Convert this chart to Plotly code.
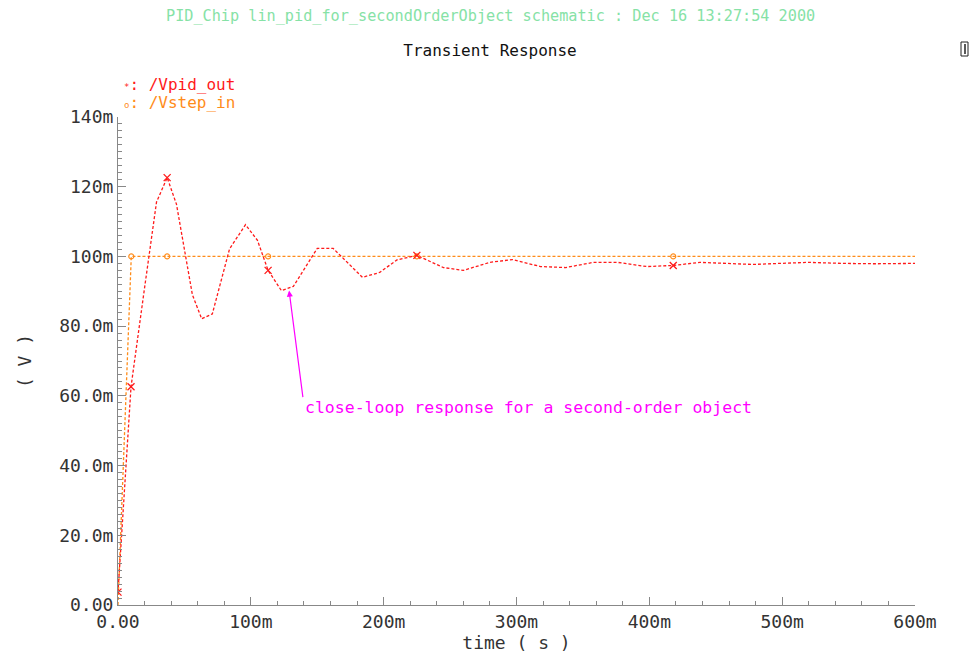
import plotly.graph_objects as go

# ---- data (time in s, voltage in V) ----
pid_t = [0.0, 0.0098, 0.020, 0.029, 0.037, 0.044, 0.056, 0.063, 0.071, 0.084,
         0.096, 0.105, 0.113, 0.123, 0.132, 0.150, 0.162, 0.184, 0.197, 0.210,
         0.225, 0.245, 0.260, 0.280, 0.297, 0.318, 0.337, 0.358, 0.376, 0.398,
         0.418, 0.438, 0.458, 0.478, 0.498, 0.520, 0.545, 0.570, 0.600]
pid_v_mv = [3.7, 62.6, 91.0, 115.6, 122.6, 115.0, 89.0, 82.1, 83.5, 102.2,
            109.1, 104.6, 96.0, 90.2, 91.4, 102.3, 102.3, 94.0, 95.4, 99.0,
            100.3, 96.8, 96.0, 98.3, 99.1, 97.1, 96.8, 98.3, 98.3, 97.1,
            97.4, 98.3, 98.0, 97.7, 98.0, 98.3, 98.0, 97.9, 98.0]

step_t = [0.0, 0.010, 0.600]
step_v_mv = [0.0, 100.0, 100.0]

pid_mark_t = [0.0, 0.0098, 0.037, 0.113, 0.225, 0.418]
pid_mark_mv = [3.7, 62.6, 122.6, 96.0, 100.3, 97.4]
step_mark_t = [0.010, 0.037, 0.113, 0.225, 0.418]
step_mark_mv = [100.0, 100.0, 100.0, 100.0, 100.0]

x_tickvals = [0.0, 0.1, 0.2, 0.3, 0.4, 0.5, 0.6]
x_ticktext = ["0.00", "100m", "200m", "300m", "400m", "500m", "600m"]
y_tickvals = [0.0, 0.02, 0.04, 0.06, 0.08, 0.10, 0.12, 0.14]
y_ticktext = ["0.00", "20.0m", "40.0m", "60.0m", "80.0m", "100m", "120m", "140m"]

RED = "#ff1a1a"
ORANGE = "#ff8c1a"
MAGENTA = "#ff00ff"
GREEN = "#86e2a6"
FONT = "DejaVu Sans Mono"
TXT = "#333333"

def mv(vals):
    return [v / 1000.0 for v in vals]

fig = go.Figure()
fig.add_trace(go.Scatter(x=step_t, y=mv(step_v_mv), mode="lines", name="/Vstep_in",
                         line=dict(color=ORANGE, width=1.3, dash="3px,2px")))
fig.add_trace(go.Scatter(x=pid_t, y=mv(pid_v_mv), mode="lines", name="/Vpid_out",
                         line=dict(color=RED, width=1.3, dash="3px,2px")))
fig.add_trace(go.Scatter(x=step_mark_t, y=mv(step_mark_mv), mode="markers",
                         marker=dict(symbol="circle-open", size=5, color=ORANGE,
                                     line=dict(width=1.2)), showlegend=False))
fig.add_trace(go.Scatter(x=pid_mark_t, y=mv(pid_mark_mv), mode="markers",
                         marker=dict(symbol="x-thin-open", size=7, color=RED,
                                     line=dict(width=1.3, color=RED)), showlegend=False))

axis_common = dict(showline=True, linecolor="#888888", linewidth=1, showgrid=False,
                   zeroline=False, ticks="inside", ticklen=8, tickcolor="#888888",
                   tickfont=dict(family=FONT, size=18, color=TXT))

fig.update_xaxes(range=[0, 0.6], tickvals=x_tickvals, ticktext=x_ticktext,
                 minor=dict(ticks="inside", dtick=0.02, ticklen=4, tickcolor="#888888"),
                 title=dict(text="time ( s )", font=dict(family=FONT, size=18, color=TXT),
                            standoff=0),
                 **axis_common)
fig.update_yaxes(range=[0, 0.14], tickvals=y_tickvals, ticktext=y_ticktext,
                 minor=dict(ticks="inside", dtick=0.002, ticklen=4, tickcolor="#888888"),
                 title=dict(text="( V )", font=dict(family=FONT, size=18, color=TXT),
                            standoff=22),
                 **axis_common)

fig.update_layout(
    width=976, height=656,
    margin=dict(l=118, r=61, t=117, b=51),
    paper_bgcolor="white", plot_bgcolor="white",
    showlegend=False,
    title=dict(text="Transient Response", x=490 / 976, xanchor="center",
               y=1 - 50 / 656, yanchor="middle",
               font=dict(family=FONT, size=16, color="#111111")),
)

# header line
fig.add_annotation(text="PID_Chip lin_pid_for_secondOrderObject schematic : Dec 16 13:27:54 2000",
                   xref="paper", yref="paper", x=(490 - 118) / 797, y=(605 - 16) / 488,
                   xanchor="center", yanchor="middle", showarrow=False,
                   font=dict(family=FONT, size=15.2, color=GREEN))

# legend-like labels
fig.add_annotation(text="<span style='font-size:9px'>*</span>: /Vpid_out",
                   xref="paper", yref="paper", x=(122 - 118) / 797, y=(605 - 85) / 488,
                   xanchor="left", yanchor="middle", showarrow=False,
                   font=dict(family=FONT, size=16, color=RED))
fig.add_annotation(text="<span style='font-size:9px'>o</span>: /Vstep_in",
                   xref="paper", yref="paper", x=(122 - 118) / 797, y=(605 - 103) / 488,
                   xanchor="left", yanchor="middle", showarrow=False,
                   font=dict(family=FONT, size=16, color=ORANGE))

# arrow + comment
fig.add_annotation(x=0.1288, y=0.0902, xref="x", yref="y", text="",
                   showarrow=True, arrowhead=2, arrowsize=1, arrowwidth=1.2,
                   arrowcolor=MAGENTA, ax=14, ay=108)
fig.add_annotation(x=0.1395, y=0.0566, xref="x", yref="y",
                   text="close-loop response for a second-order object",
                   xanchor="left", yanchor="middle", showarrow=False,
                   font=dict(family=FONT, size=16.5, color=MAGENTA))

# small icon top right
fig.add_shape(type="rect", xref="paper", yref="paper",
              x0=(961 - 118) / 797, x1=(968 - 118) / 797,
              y0=(605 - 56) / 488, y1=(605 - 42) / 488,
              line=dict(color="#222222", width=1), fillcolor="white")
fig.add_shape(type="line", xref="paper", yref="paper",
              x0=(965 - 118) / 797, x1=(965 - 118) / 797,
              y0=(605 - 54) / 488, y1=(605 - 44) / 488,
              line=dict(color="#222222", width=1.5))

fig.write_html("out.html")
